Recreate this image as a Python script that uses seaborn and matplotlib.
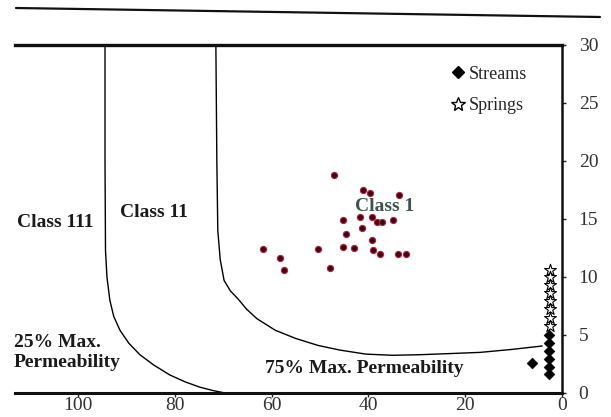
import pandas as pd
import seaborn as sns
import matplotlib.pyplot as plt
from matplotlib.lines import Line2D

# Class 1 samples (red dots)
class_x = [47.1, 41.1, 39.7, 33.7, 45.2, 41.7, 39.3, 38.2, 37.2, 34.9, 44.6, 41.3,
           39.3, 45.2, 43.0, 39.0, 37.6, 33.9, 32.2, 61.8, 58.3, 57.4, 50.4, 47.9]
class_y = [18.8, 17.5, 17.2, 17.1, 14.9, 15.2, 15.2, 14.7, 14.7, 14.9, 13.7, 14.2,
           13.2, 12.6, 12.5, 12.3, 12.0, 12.0, 12.0, 12.4, 11.6, 10.6, 12.4, 10.8]

streams_x = [2.6, 2.6, 2.6, 2.6, 2.6, 2.6, 6.2]
streams_y = [5.0, 4.3, 3.6, 2.9, 2.2, 1.6, 2.6]

springs_x = [2.4, 2.4, 2.4, 2.4, 2.4, 2.4, 2.4, 2.4]
springs_y = [10.6, 10.0, 9.3, 8.6, 7.9, 7.2, 6.5, 5.8]

# permeability boundary curves
curve25_x = [94.4, 94.4, 94.3, 94.0, 93.4, 92.6, 91.3, 89.5, 87.2, 84.3, 81.0, 77.8, 74.8, 72.0, 69.6]
curve25_y = [30, 20, 12.3, 10.0, 8.0, 6.6, 5.4, 4.3, 3.3, 2.4, 1.55, 0.95, 0.5, 0.2, 0]
curve75_x = [71.5, 71.3, 71.1, 70.6, 69.8, 68.5, 66.9, 65.1, 63.0, 59.2, 55.0, 50.4,
             45.9, 40.5, 35.0, 29.3, 23.0, 16.9, 10.5, 4.1]
curve75_y = [30, 20, 14.0, 11.5, 9.7, 8.8, 8.1, 7.2, 6.4, 5.4, 4.7, 4.1,
             3.7, 3.35, 3.25, 3.3, 3.4, 3.5, 3.75, 4.05]

xticks = [100, 80, 60, 40, 20, 0]
yticks = [0, 5, 10, 15, 20, 25, 30]

sns.set_theme(style="white")
plt.rcParams['font.family'] = ['Liberation Serif', 'DejaVu Serif']

fig = plt.figure(figsize=(6.11, 4.17), dpi=100)
ax = fig.add_axes([0.0245, 0.0576, 0.8953, 0.8345])

c25 = pd.DataFrame({"x": curve25_x, "y": curve25_y})
c75 = pd.DataFrame({"x": curve75_x, "y": curve75_y})
sns.lineplot(data=c25, x="x", y="y", sort=False, estimator=None, color="black", lw=1.0, ax=ax)
sns.lineplot(data=c75, x="x", y="y", sort=False, estimator=None, color="black", lw=1.0, ax=ax)

sns.scatterplot(x=class_x, y=class_y, s=20, color="#3a0812", edgecolor="#b8243e",
                linewidth=0.8, ax=ax)
sns.scatterplot(x=springs_x, y=springs_y, marker="*", s=80, color="white",
                edgecolor="black", linewidth=0.8, ax=ax, zorder=4)
sns.scatterplot(x=streams_x, y=streams_y, marker="D", s=30, color="black",
                edgecolor="black", ax=ax, zorder=5)

ax.set_xlim(113, 0)
ax.set_ylim(0, 30)
ax.set_xticks(xticks)
ax.set_yticks(yticks)
ax.set_xlabel("")
ax.set_ylabel("")
ax.yaxis.tick_right()
ax.tick_params(axis="both", which="major", direction="out", length=3, width=1,
               labelsize=14, labelcolor="#333333", color="#222222", bottom=True, right=True)
ax.tick_params(axis="y", pad=9)
ax.tick_params(axis="x", pad=0)

ax.spines["left"].set_visible(False)
ax.spines["top"].set_linewidth(2.4)
ax.spines["bottom"].set_linewidth(2.2)
ax.spines["right"].set_linewidth(1.8)
for s in ["top", "bottom", "right"]:
    ax.spines[s].set_color("#111111")

bold = dict(fontweight="bold", fontsize=14, color="#1a1a1a")
ax.text(112.6, 14.7, "Class 111", ha="left", va="center", **bold)
ax.text(91.3, 15.6, "Class 11", ha="left", va="center", **bold)
ax.text(42.8, 16.1, "Class 1", ha="left", va="center", fontweight="bold", fontsize=14,
        color="#3f524c")
ax.text(113.2, 3.5, "25% Max.\nPermeability", ha="left", va="center", linespacing=1.25, **bold)
ax.text(61.4, 2.1, "75% Max. Permeability", ha="left", va="center", **bold)

handles = [Line2D([], [], marker="D", ls="", color="black", markersize=6),
           Line2D([], [], marker="*", ls="", markerfacecolor="white",
                  markeredgecolor="black", markersize=10)]
ax.legend(handles, ["Streams", "Springs"], loc="upper left", bbox_to_anchor=(0.767, 0.987),
          frameon=False, fontsize=13, handlelength=0.8, handletextpad=0.2, labelspacing=0.8)

# rule above the chart
fig.add_artist(Line2D([16 / 611, 600 / 611], [1 - 8 / 417, 1 - 17 / 417],
                      color="#111111", lw=1.6, transform=fig.transFigure))

plt.savefig("out.png", dpi=100)
